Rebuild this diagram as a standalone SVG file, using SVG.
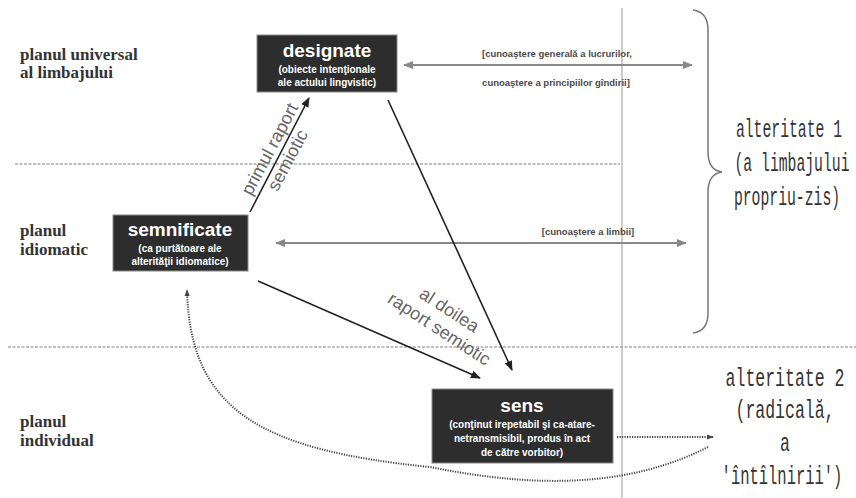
<svg xmlns="http://www.w3.org/2000/svg" width="856" height="498" viewBox="0 0 856 498">
<defs>
<style>
.box{fill:#2d2d2d;stroke:#8a8a8a;stroke-width:1}
.t{font-family:"Liberation Sans",Arial,sans-serif;fill:#fff;text-anchor:middle;font-weight:bold}
.tt{font-size:19px}
.ts{font-size:10px}
.plan{font-family:"Liberation Serif","Times New Roman",serif;font-weight:bold;font-size:17px;fill:#333}
.k{font-family:"Liberation Sans",Arial,sans-serif;font-weight:bold;font-size:9.5px;fill:#4a4a4a;text-anchor:middle}
.rap{font-family:"Liberation Sans",Arial,sans-serif;font-size:18px;fill:#666;text-anchor:middle}
.alt{font-family:"Liberation Mono","Courier New",monospace;font-size:25px;fill:#333;text-anchor:middle}
.guide{stroke:#aaa;stroke-width:1.5;stroke-dasharray:3 1.5;fill:none}
.vline{stroke:#999;stroke-width:1;fill:none}
.rel{stroke:#222;stroke-width:1.6;fill:none}
.know{stroke:#888;stroke-width:2;fill:none}
.dot{stroke:#444;stroke-width:2;stroke-dasharray:1.2 1.3;fill:none}
</style>
<marker id="ah" markerUnits="userSpaceOnUse" viewBox="0 0 10 8" refX="9" refY="4" markerWidth="10" markerHeight="8" orient="auto-start-reverse"><path d="M0,0 L10,4 L0,8 z" fill="#222"/></marker>
<marker id="ag" markerUnits="userSpaceOnUse" viewBox="0 0 10 8" refX="9" refY="4" markerWidth="11" markerHeight="8" orient="auto-start-reverse"><path d="M0,0 L10,4 L0,8 z" fill="#888"/></marker>
<marker id="ad" markerUnits="userSpaceOnUse" viewBox="0 0 8 6" refX="7" refY="3" markerWidth="7" markerHeight="6" orient="auto-start-reverse"><path d="M0,0 L8,3 L0,6 z" fill="#444"/></marker>
</defs>

<g id="guides">
<line class="guide" x1="15" y1="164" x2="620" y2="164"/>
<line class="guide" x1="8" y1="347" x2="856" y2="347"/>
<line class="vline" x1="622" y1="8" x2="622" y2="498"/>
<path d="M693,10 Q708,12 708,30 L708,152 Q708,170 722,172 Q708,174 708,192 L708,313 Q708,331 693,333" fill="none" stroke="#777" stroke-width="1.5"/>
</g>

<g id="plane-labels">
<text class="plan" x="20" y="60">planul universal</text>
<text class="plan" x="20" y="78">al limbajului</text>
<text class="plan" x="20" y="236">planul</text>
<text class="plan" x="20" y="255">idiomatic</text>
<text class="plan" x="20" y="427">planul</text>
<text class="plan" x="20" y="446">individual</text>
</g>

<g id="connectors">
<line class="know" x1="404" y1="65" x2="692" y2="65" marker-start="url(#ag)" marker-end="url(#ag)"/>
<line class="know" x1="276" y1="243" x2="686" y2="243" marker-start="url(#ag)" marker-end="url(#ag)"/>
<line class="rel" x1="250" y1="212" x2="309" y2="98" marker-end="url(#ah)"/>
<line class="rel" x1="388" y1="100" x2="512" y2="370" marker-end="url(#ah)"/>
<line class="rel" x1="258" y1="281" x2="480" y2="378" marker-end="url(#ah)"/>
<path class="dot" d="M708,447 C620,492 520,485 430,467 C260,450 190,410 187,290" marker-end="url(#ad)"/>
<line class="dot" x1="617" y1="437" x2="713" y2="437" marker-end="url(#ad)"/>
<text class="k" x="557" y="57">[cunoaştere generală a lucrurilor,</text>
<text class="k" x="556" y="86">cunoaştere a principiilor gîndirii]</text>
<text class="k" x="588" y="235">[cunoaştere a limbii]</text>
<text class="rap" transform="translate(275,152) rotate(-62)">primul raport</text>
<text class="rap" transform="translate(293,163) rotate(-62)">semiotic</text>
<text class="rap" transform="translate(446,315) rotate(33)">al doilea</text>
<text class="rap" transform="translate(436,334) rotate(33)">raport semiotic</text>
</g>

<g id="designate">
<rect class="box" x="257" y="35" width="140" height="57"/>
<text class="t tt" x="327" y="57">designate</text>
<text class="t ts" x="327" y="73">(obiecte intenţionale</text>
<text class="t ts" x="327" y="86">ale actului lingvistic)</text>
</g>

<g id="semnificate">
<rect class="box" x="113" y="215" width="135" height="56"/>
<text class="t tt" x="180" y="236">semnificate</text>
<text class="t ts" x="180" y="252">(ca purtătoare ale</text>
<text class="t ts" x="180" y="265">alterităţii idiomatice)</text>
</g>

<g id="sens">
<rect class="box" x="432" y="389" width="181" height="74"/>
<text class="t tt" x="522" y="412">sens</text>
<text class="t ts" x="522" y="428">(conţinut irepetabil şi ca-atare-</text>
<text class="t ts" x="522" y="442">netransmisibil, produs în act</text>
<text class="t ts" x="522" y="456">de către vorbitor)</text>
</g>

<g id="alteritate1">
<text class="alt" transform="translate(789,137) scale(0.59,1)">alteritate 1</text>
<text class="alt" transform="translate(792,171) scale(0.59,1)">(a limbajului</text>
<text class="alt" transform="translate(787,205) scale(0.59,1)">propriu-zis)</text>
</g>

<g id="alteritate2">
<text class="alt" transform="translate(785,386) scale(0.66,1)">alteritate 2</text>
<text class="alt" transform="translate(785,418) scale(0.66,1)">(radicală,</text>
<text class="alt" transform="translate(785,451) scale(0.66,1)">a</text>
<text class="alt" transform="translate(782,484) scale(0.62,1)">'întîlnirii')</text>
</g>
</svg>
